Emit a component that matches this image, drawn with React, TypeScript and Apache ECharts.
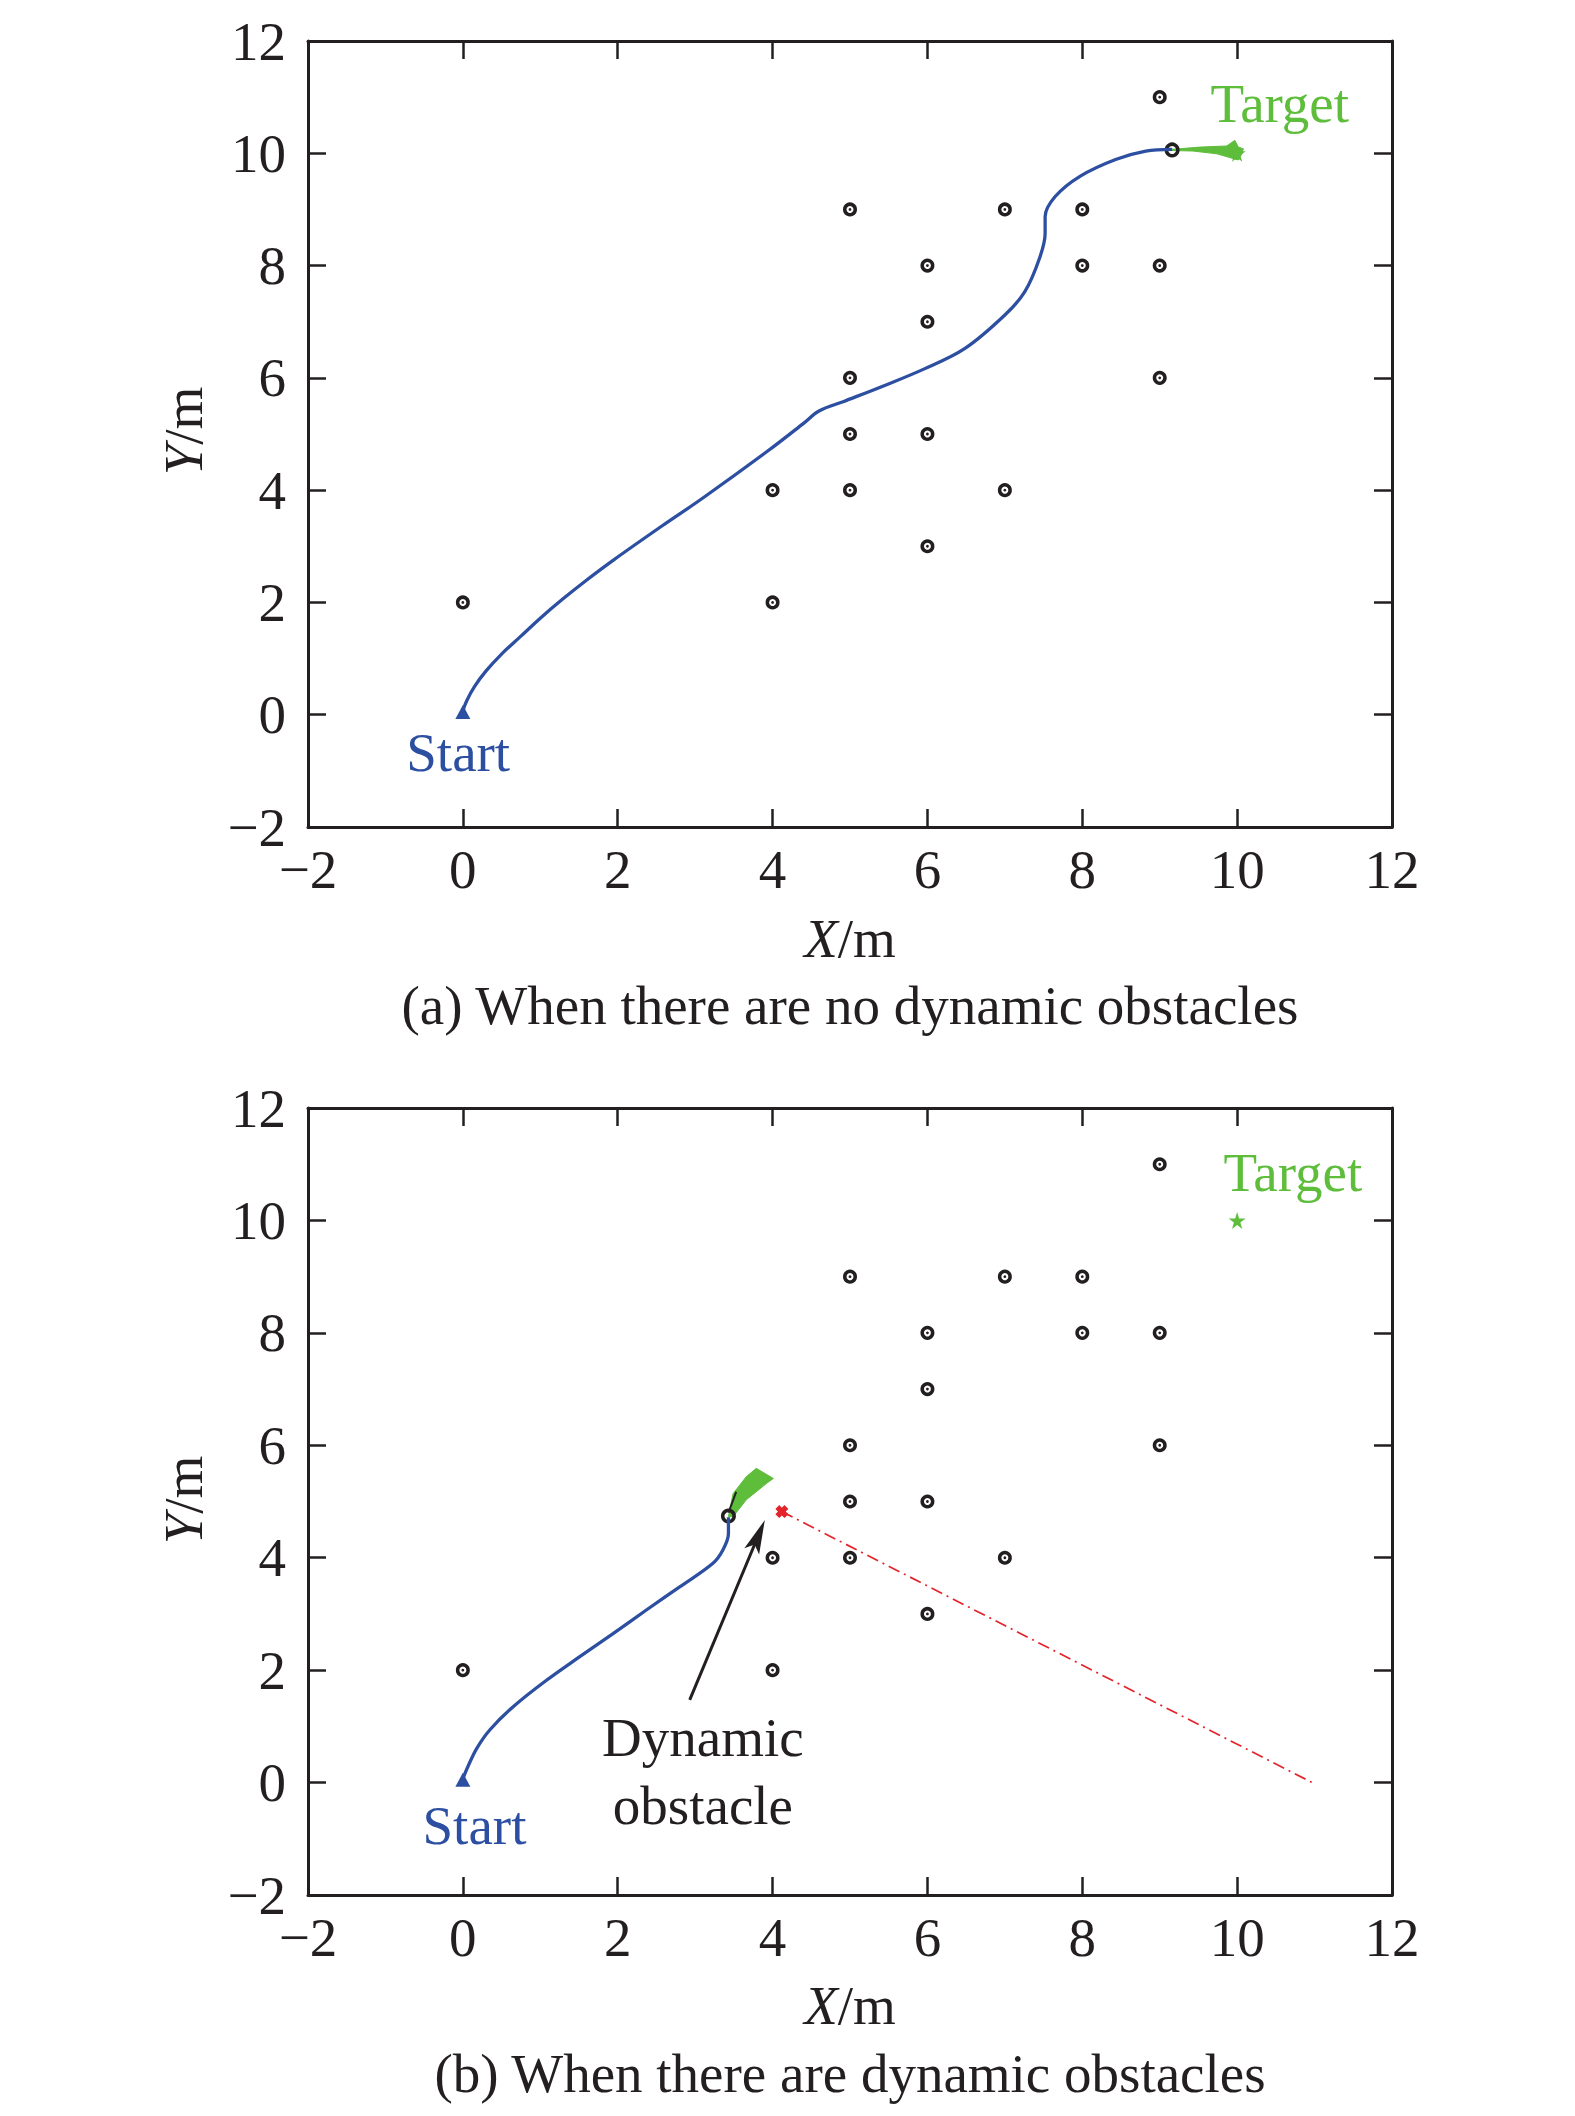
import React, { useEffect, useRef } from "react";
import * as echarts from "echarts";

// ---------- data ----------
const OBSTACLES: number[][] = [
  [0, 2], [4, 2], [4, 4], [5, 4], [5, 5], [5, 6], [5, 9], [6, 3], [6, 5],
  [6, 7], [6, 8], [7, 4], [7, 9], [8, 8], [8, 9], [9, 6], [9, 8], [9, 11],
];

const PATH_A: number[][] = [
  [0, 0.07], [0.05, 0.25], [0.15, 0.5], [0.3, 0.78], [0.5, 1.08], [0.75, 1.4],
  [1.0, 1.72], [1.29, 2.06], [1.6, 2.4], [1.94, 2.75], [2.58, 3.37], [3.1, 3.86],
  [3.95, 4.71], [4.4, 5.19], [4.6, 5.41], [4.92, 5.58], [5.44, 5.86], [5.96, 6.16],
  [6.48, 6.52], [7.0, 7.12], [7.26, 7.54], [7.45, 8.14], [7.52, 8.57], [7.52, 8.87],
  [7.65, 9.23], [7.97, 9.59], [8.43, 9.89], [8.82, 10.04], [9.16, 10.07],
];

const PATH_B: number[][] = [
  [0, 0.07], [0.07, 0.3], [0.18, 0.61], [0.35, 0.94], [0.65, 1.35], [1.08, 1.82],
  [1.51, 2.24], [1.94, 2.65], [2.37, 3.07], [2.8, 3.48], [3.23, 3.9], [3.36, 4.14],
  [3.43, 4.43], [3.43, 4.72],
];

const FAN_A: number[][] = [
  [9.155, 10.07], [9.52, 10.11], [9.866, 10.13], [9.97, 10.23], [10.015, 10.11],
  [10.08, 10.08], [10.06, 9.99], [10.015, 9.88], [9.74, 9.99], [9.43, 10.04], [9.155, 10.05],
];

const FAN_B: number[][] = [
  [3.43, 4.73], [3.49, 5.14], [3.66, 5.44], [3.79, 5.59], [4.01, 5.41],
  [3.92, 5.32], [3.66, 5.03], [3.49, 4.73],
];

const ROBOT_A: number[] = [9.16, 10.06];
const ROBOT_B: number[] = [3.43, 4.74];
const HEADING_B: number[][] = [[3.43, 4.8], [3.53, 5.17]];
const START: number[] = [0, 0.05];
const TARGET: number[] = [10, 10];
const DYN_OBS: number[] = [4.12, 4.82];
const DYN_LINE: number[][] = [[4.12, 4.82], [10.97, 0]];
const ARROW: number[][] = [[2.93, 1.47], [3.9, 4.67]];

const START_LABEL_A: number[] = [-0.06, -0.67];
const TARGET_LABEL_A: number[] = [10.55, 10.89];
const START_LABEL_B: number[] = [0.15, -0.76];
const TARGET_LABEL_B: number[] = [10.72, 10.86];
const DYN_LABEL: number[] = [3.1, 0.2];

const AXIS_MIN = -2;
const AXIS_MAX = 12;
const AXIS_STEP = 2;

const CAPTION_A = "(a) When there are no dynamic obstacles";
const CAPTION_B = "(b) When there are dynamic obstacles";

// ---------- styles ----------
const FONT = '"Liberation Serif", "Times New Roman", serif';
const FS = 55;
const BLACK = "#231f20";
const BLUE = "#2d4fa1";
const GREEN = "#5ebd3b";
const RED = "#e3242b";
const STAR =
  "path://M50,0 L61,35 L98,35 L68,57 L79,91 L50,70 L21,91 L32,57 L2,35 L39,35Z";
const CROSS =
  "path://M0,3 L3,0 L5,2 L7,0 L10,3 L8,5 L10,7 L7,10 L5,8 L3,10 L0,7 L2,5Z";

const fmt = (v: number) => (v < 0 ? "\u2212" + Math.abs(v) : String(v));

function xAxes(gi: number) {
  const base = {
    gridIndex: gi,
    type: "value",
    min: AXIS_MIN,
    max: AXIS_MAX,
    interval: AXIS_STEP,
    axisLine: { show: true, onZero: false, lineStyle: { color: BLACK, width: 3 } },
    axisTick: { show: true, inside: true, length: 18, lineStyle: { color: BLACK, width: 2.5 } },
    splitLine: { show: false },
  };
  return [
    {
      ...base,
      position: "bottom",
      axisLabel: { margin: 15, fontSize: FS, fontFamily: FONT, color: BLACK, formatter: fmt },
    },
    { ...base, position: "top", axisLabel: { show: false } },
  ];
}

function yAxes(gi: number) {
  const base = {
    gridIndex: gi,
    type: "value",
    min: AXIS_MIN,
    max: AXIS_MAX,
    interval: AXIS_STEP,
    axisLine: { show: true, onZero: false, lineStyle: { color: BLACK, width: 3 } },
    axisTick: { show: true, inside: true, length: 18, lineStyle: { color: BLACK, width: 2.5 } },
    splitLine: { show: false },
  };
  return [
    {
      ...base,
      position: "left",
      axisLabel: { margin: 22, fontSize: FS, fontFamily: FONT, color: BLACK, formatter: fmt },
    },
    { ...base, position: "right", axisLabel: { show: false } },
  ];
}

function polygonSeries(ax: number, pts: number[][], color: string) {
  return {
    type: "custom",
    coordinateSystem: "cartesian2d",
    xAxisIndex: ax,
    yAxisIndex: ax,
    silent: true,
    clip: false,
    data: [pts[0]],
    renderItem: (_p: any, api: any) => ({
      type: "polygon",
      shape: { points: pts.map((p) => api.coord(p)) },
      style: { fill: color, stroke: color, lineWidth: 1 },
    }),
  };
}

function scatter(ax: number, data: any[], symbol: any, size: any, itemStyle: any) {
  return {
    type: "scatter",
    xAxisIndex: ax,
    yAxisIndex: ax,
    silent: true,
    symbol,
    symbolSize: size,
    itemStyle: { opacity: 1, ...itemStyle },
    data,
  };
}

function labelSeries(ax: number, items: { pos: number[]; text: string; color: string }[]) {
  return {
    type: "scatter",
    xAxisIndex: ax,
    yAxisIndex: ax,
    silent: true,
    symbolSize: 0.1,
    itemStyle: { color: "transparent", opacity: 1 },
    data: items.map((it) => ({
      value: it.pos,
      label: {
        show: true,
        position: "inside",
        formatter: it.text,
        color: it.color,
        opacity: 1,
        fontSize: FS,
        fontFamily: FONT,
        lineHeight: 68,
        align: "center",
        verticalAlign: "middle",
      },
    })),
  };
}

function panelSeries(ax: number, dynamic: boolean) {
  const path = dynamic ? PATH_B : PATH_A;
  const fan = dynamic ? FAN_B : FAN_A;
  const robot = dynamic ? ROBOT_B : ROBOT_A;
  const s: any[] = [];
  s.push({
    type: "line",
    xAxisIndex: ax,
    yAxisIndex: ax,
    data: path,
    smooth: 0.35,
    showSymbol: false,
    silent: true,
    lineStyle: { color: BLUE, width: 3.3 },
  });
  if (dynamic) {
    s.push({
      type: "line",
      xAxisIndex: ax,
      yAxisIndex: ax,
      data: DYN_LINE,
      showSymbol: false,
      silent: true,
      lineStyle: { color: RED, width: 1.7, type: [12, 5, 2, 5] },
    });
    s.push({
      type: "line",
      xAxisIndex: ax,
      yAxisIndex: ax,
      data: HEADING_B,
      showSymbol: false,
      silent: true,
      lineStyle: { color: BLACK, width: 2 },
    });
  }
  s.push(scatter(ax, [TARGET], STAR, 17, { color: GREEN }));
  s.push(
    scatter(ax, OBSTACLES, "circle", 10.5, {
      color: "#ffffff",
      borderColor: BLACK,
      borderWidth: 3.5,
    })
  );
  s.push(scatter(ax, OBSTACLES, "circle", 2.8, { color: BLACK }));
  s.push(polygonSeries(ax, fan, GREEN));
  s.push(
    scatter(ax, [robot], "circle", 11.5, {
      color: "transparent",
      borderColor: BLACK,
      borderWidth: 3.5,
    })
  );
  s.push(scatter(ax, [START], "triangle", [15, 14], { color: BLUE }));
  if (dynamic) {
    s.push(scatter(ax, [DYN_OBS], CROSS, 13, { color: RED }));
    s.push({
      type: "custom",
      coordinateSystem: "cartesian2d",
      xAxisIndex: ax,
      yAxisIndex: ax,
      silent: true,
      clip: false,
      data: [ARROW[1]],
      renderItem: (_p: any, api: any) => {
        const a = api.coord(ARROW[0]);
        const b = api.coord(ARROW[1]);
        const dx = b[0] - a[0];
        const dy = b[1] - a[1];
        const L = Math.hypot(dx, dy);
        const ux = dx / L;
        const uy = dy / L;
        const hl = 34;
        const hw = 8;
        const bx = b[0] - ux * hl;
        const by = b[1] - uy * hl;
        const px = -uy;
        const py = ux;
        return {
          type: "group",
          children: [
            {
              type: "line",
              shape: { x1: a[0], y1: a[1], x2: bx + ux * 8, y2: by + uy * 8 },
              style: { stroke: BLACK, lineWidth: 3 },
            },
            {
              type: "polygon",
              shape: {
                points: [
                  [b[0], b[1]],
                  [bx + px * hw, by + py * hw],
                  [b[0] - ux * hl * 0.78, b[1] - uy * hl * 0.78],
                  [bx - px * hw, by - py * hw],
                ],
              },
              style: { fill: BLACK },
            },
          ],
        };
      },
    });
  }
  s.push(
    labelSeries(
      ax,
      dynamic
        ? [
            { pos: START_LABEL_B, text: "Start", color: BLUE },
            { pos: TARGET_LABEL_B, text: "Target", color: GREEN },
            { pos: DYN_LABEL, text: "Dynamic\nobstacle", color: BLACK },
          ]
        : [
            { pos: START_LABEL_A, text: "Start", color: BLUE },
            { pos: TARGET_LABEL_A, text: "Target", color: GREEN },
          ]
    )
  );
  return s;
}

function textEl(x: number, y: number, text: string, rot = 0) {
  return {
    type: "text",
    x,
    y,
    rotation: rot,
    silent: true,
    style: {
      text,
      fill: BLACK,
      fontSize: FS,
      fontFamily: FONT,
      align: "center",
      verticalAlign: "middle",
      rich: {
        i: { fontStyle: "italic", fontSize: FS, fontFamily: FONT, fill: BLACK },
      },
    },
  };
}

export default function App() {
  const ref = useRef<HTMLDivElement>(null);
  useEffect(() => {
    document.body.style.margin = "0";
    if (!ref.current) return;
    const chart = echarts.init(ref.current, undefined, { renderer: "svg" });
    chart.setOption({
      animation: false,
      backgroundColor: "#ffffff",
      grid: [
        { left: 308, top: 41, width: 1084, height: 786, containLabel: false },
        { left: 308, top: 1108, width: 1084, height: 787, containLabel: false },
      ],
      xAxis: [...xAxes(0), ...xAxes(1)],
      yAxis: [...yAxes(0), ...yAxes(1)],
      series: [...panelSeries(0, false), ...panelSeries(2, true)],
      graphic: [
        textEl(850, 938, "{i|X}/m"),
        textEl(183, 431, "{i|Y}/m", Math.PI / 2),
        textEl(850, 1005, CAPTION_A),
        textEl(850, 2005, "{i|X}/m"),
        textEl(183, 1500, "{i|Y}/m", Math.PI / 2),
        textEl(850, 2073, CAPTION_B),
      ],
    });
    return () => chart.dispose();
  }, []);
  return <div ref={ref} style={{ width: 1575, height: 2116 }} />;
}
